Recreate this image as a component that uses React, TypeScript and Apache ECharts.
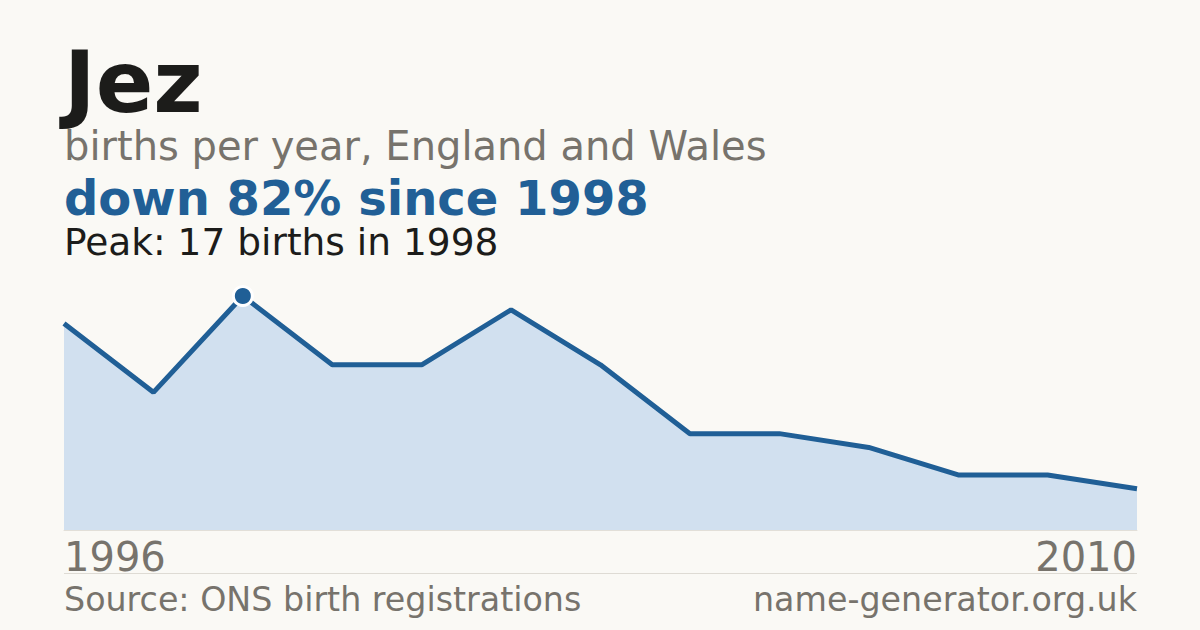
import { useEffect, useRef } from "react"
import * as echarts from "echarts"

const years = ["1996", "1997", "1998", "1999", "2000", "2001", "2002", "2003", "2004", "2006", "2007", "2009", "2010"]
const births = [15, 10, 17, 12, 12, 16, 12, 7, 7, 6, 4, 4, 3]

const title = "Jez"
const subtitle = "births per year, England and Wales"
const headline = "down 82% since 1998"
const peakNote = "Peak: 17 births in 1998"
const source = "Source: ONS birth registrations"
const site = "name-generator.org.uk"

const FONT = "'DejaVu Sans', sans-serif"

export default function App() {
  const chartRef = useRef<HTMLDivElement>(null)

  useEffect(() => {
    if (!chartRef.current) return
    document.body.style.margin = "0"
    const chart = echarts.init(chartRef.current, null, { renderer: "svg" })

    const peak = Math.max(...births)
    const peakIndex = births.indexOf(peak)

    const text = (x: number, y: number, t: string, size: number, color: string, weight = "normal", align = "left") => ({
      type: "text",
      x,
      y,
      style: {
        text: t,
        fontFamily: FONT,
        fontSize: size,
        fontWeight: weight,
        fill: color,
        align,
        verticalAlign: "middle",
        lineHeight: Math.round(size * 0.95),
      },
    })

    chart.setOption({
      animation: false,
      backgroundColor: "#faf9f5",
      grid: { left: 64, right: 63, top: 296, bottom: 100 },
      xAxis: {
        type: "category",
        data: years,
        boundaryGap: false,
        axisLine: { show: true, lineStyle: { color: "#e2dfd8", width: 1 } },
        axisTick: { show: false },
        splitLine: { show: false },
        axisLabel: {
          interval: (i: number) => i === 0 || i === years.length - 1,
          fontFamily: FONT,
          fontSize: 40,
          color: "#77736c",
          margin: 7,
          alignMinLabel: "left",
          alignMaxLabel: "right",
        },
      },
      yAxis: {
        type: "value",
        min: 0,
        max: peak,
        show: false,
        splitLine: { show: false },
      },
      series: [
        {
          type: "line",
          data: births,
          symbol: "none",
          lineStyle: { color: "#205f96", width: 5 },
          areaStyle: { color: "#d1e0ef", opacity: 1 },
          z: 2,
        },
        {
          type: "scatter",
          data: [[peakIndex, peak]],
          symbol: "circle",
          symbolSize: 19,
          itemStyle: { color: "#205f96", borderColor: "#ffffff", borderWidth: 3, opacity: 1 },
          z: 3,
        },
      ],
      graphic: [
        text(64, 82, title, 85, "#1c1c1a", "bold"),
        text(64, 146, subtitle, 40, "#77736c"),
        text(64, 198, headline, 48, "#215f96", "bold"),
        text(64, 242, peakNote, 37.5, "#1c1c1a"),
        {
          type: "line",
          shape: { x1: 64, y1: 573.5, x2: 1137, y2: 573.5 },
          style: { stroke: "#dedbd4", lineWidth: 1 },
        },
        text(64, 599, source, 33.3, "#77736c"),
        text(1137, 599, site, 33.3, "#77736c", "normal", "right"),
      ],
    })

    return () => {
      chart.dispose()
    }
  }, [])

  return (
    <div
      ref={chartRef}
      style={{ width: 1200, height: 630, position: "absolute", left: 0, top: 0 }}
    />
  )
}
